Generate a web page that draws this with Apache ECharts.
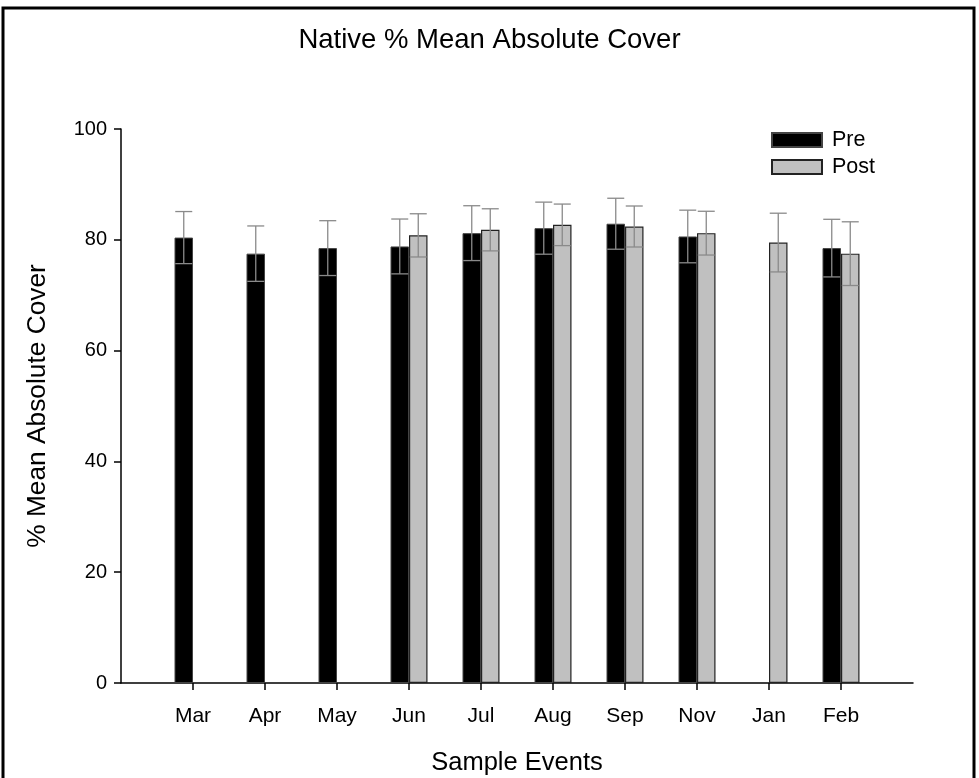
<!DOCTYPE html>
<html>
<head>
<meta charset="utf-8">
<script src="https://cdn.jsdelivr.net/npm/echarts@6/dist/echarts.min.js"></script>
<style>html,body{margin:0;padding:0;background:#fff;}#c{width:979px;height:778px;}</style>
</head>
<body>
<div id="c"></div>
<script>
const categories = ['Mar','Apr','May','Jun','Jul','Aug','Sep','Nov','Jan','Feb'];
const preMean  = [80.4, 77.5, 78.5, 78.8, 81.2, 82.1, 82.9, 80.6, null, 78.5];
const preErr   = [4.7, 5.0, 4.95, 4.95, 4.95, 4.7, 4.6, 4.75, null, 5.2];
const postMean = [null, null, null, 80.8, 81.8, 82.7, 82.4, 81.2, 79.5, 77.5];
const postErr  = [null, null, null, 3.9, 3.8, 3.75, 3.7, 3.95, 5.3, 5.75];
const yTicks = [0, 20, 40, 60, 80, 100];

const FONT = 'Liberation Sans, Arial, sans-serif';
const BW = 18.5;
const cats = [''].concat(categories, ['']);
const pad = a => [null].concat(a, [null]);

function errData(mean, err) {
  const out = [];
  mean.forEach((m, i) => { if (m != null) out.push([i + 1, m - err[i], m + err[i]]); });
  return out;
}
function errRender(offset) {
  return function (params, api) {
    const x = api.value(0);
    const lo = api.coord([x, api.value(1)]);
    const hi = api.coord([x, api.value(2)]);
    const cx = lo[0] + offset;
    const hw = 8.5;
    const st = { stroke: '#8a8a8a', lineWidth: 1.3 };
    return {
      type: 'group',
      children: [
        { type: 'line', shape: { x1: cx, y1: lo[1], x2: cx, y2: hi[1] }, style: st },
        { type: 'line', shape: { x1: cx - hw, y1: hi[1], x2: cx + hw, y2: hi[1] }, style: st },
        { type: 'line', shape: { x1: cx - hw, y1: lo[1], x2: cx + hw, y2: lo[1] }, style: st }
      ]
    };
  };
}

const chart = echarts.init(document.getElementById('c'));
chart.setOption({
  animation: false,
  backgroundColor: '#fff',
  textStyle: { fontFamily: FONT, color: '#000' },
  title: {
    text: 'Native % Mean Absolute Cover',
    left: 'center', top: 21,
    textStyle: { fontFamily: FONT, fontSize: 27.5, fontWeight: 'normal', color: '#000' }
  },
  graphic: [{
    type: 'rect', shape: { x: 3, y: 8, width: 971, height: 790 },
    style: { fill: null, stroke: '#000', lineWidth: 3 }, silent: true
  }],
  legend: {
    orient: 'vertical', left: 766, top: 124,
    itemWidth: 50, itemHeight: 14, itemGap: 5,
    icon: 'rect',
    data: ['Pre', 'Post'],
    textStyle: { fontFamily: FONT, fontSize: 21.5, color: '#000', padding: [0, 0, 0, 5] }
  },
  grid: { left: 121, right: 66, top: 129, bottom: 95, containLabel: false, outerBoundsMode: 'none' },
  xAxis: {
    type: 'category', data: cats, boundaryGap: false,
    name: 'Sample Events', nameLocation: 'middle', nameGap: 67,
    nameTextStyle: { fontFamily: FONT, fontSize: 25.5, color: '#000' },
    axisLine: { lineStyle: { color: '#000', width: 1.5 } },
    axisTick: { show: true, inside: false, length: 7, lineStyle: { color: '#000', width: 1.5 },
      interval: function (i, v) { return v !== ''; } },
    axisLabel: { fontFamily: FONT, fontSize: 21, color: '#000', margin: 23, interval: 0 },
    splitLine: { show: false }
  },
  yAxis: {
    type: 'value', min: yTicks[0], max: yTicks[yTicks.length - 1], interval: 20,
    name: '% Mean Absolute Cover', nameLocation: 'middle', nameGap: 70, nameRotate: 90,
    nameTextStyle: { fontFamily: FONT, fontSize: 26.3, color: '#000' },
    axisLine: { show: true, lineStyle: { color: '#000', width: 1.5 } },
    axisTick: { show: true, inside: false, length: 7, lineStyle: { color: '#000', width: 1.5 } },
    axisLabel: { fontFamily: FONT, fontSize: 20, color: '#000', margin: 14 },
    splitLine: { show: false }
  },
  series: [
    { name: 'Pre', type: 'bar', data: pad(preMean), barWidth: BW, barGap: '0%',
      itemStyle: { color: '#000', borderColor: '#444', borderWidth: 1 }, z: 2 },
    { name: 'Post', type: 'bar', data: pad(postMean), barWidth: BW, barGap: '0%',
      itemStyle: { color: '#c0c0c0', borderColor: '#222', borderWidth: 1.2 }, z: 2 },
    { name: 'PreErr', type: 'custom', data: errData(preMean, preErr), renderItem: errRender(-BW / 2),
      encode: { x: 0, y: [1, 2] }, z: 5, silent: true },
    { name: 'PostErr', type: 'custom', data: errData(postMean, postErr), renderItem: errRender(BW / 2),
      encode: { x: 0, y: [1, 2] }, z: 5, silent: true }
  ]
});
</script>
</body>
</html>
